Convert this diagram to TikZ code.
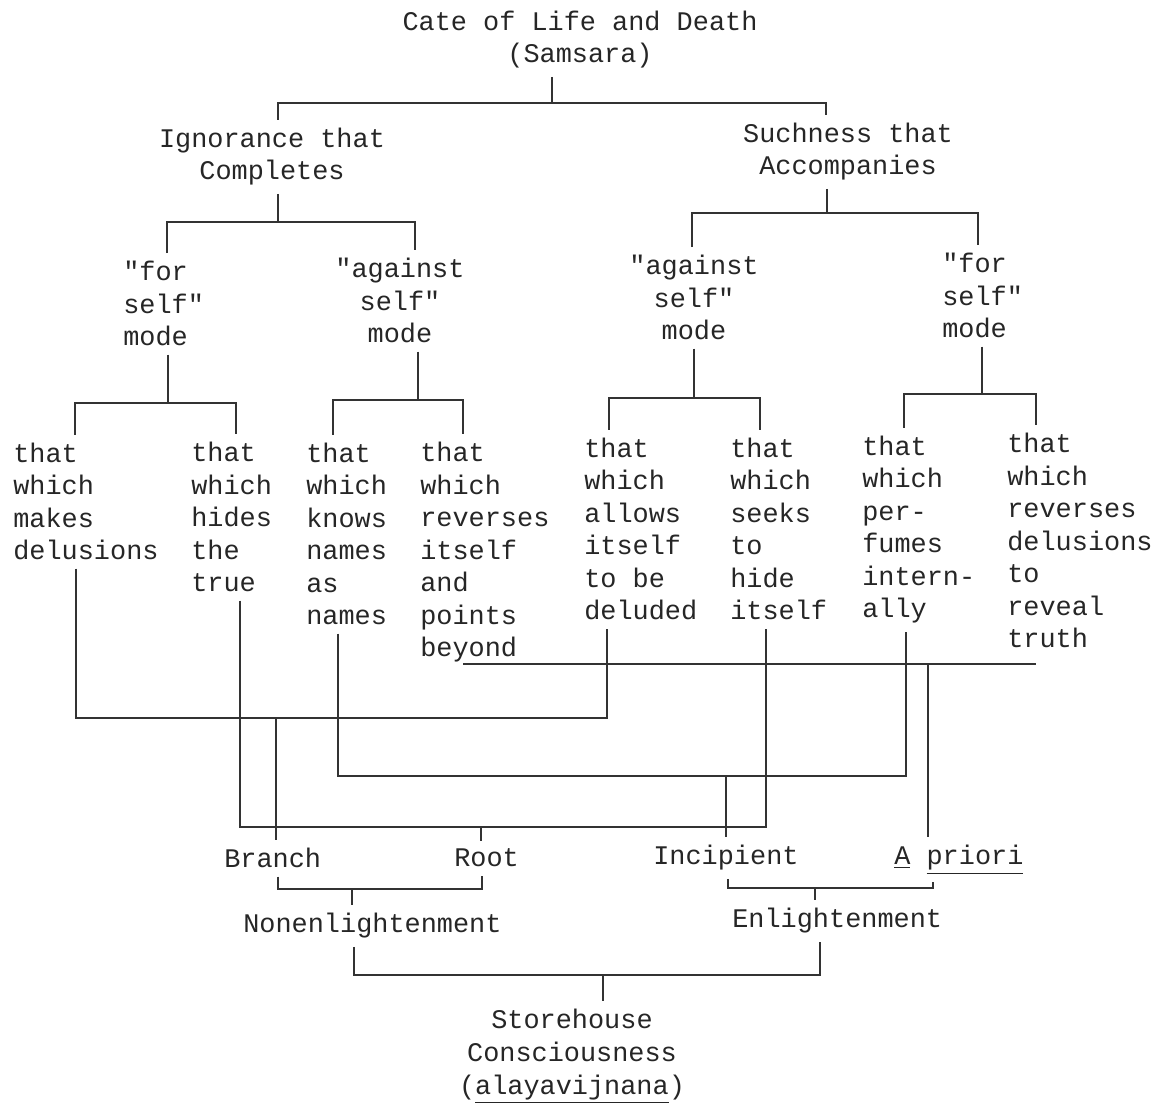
\documentclass[tikz,border=0pt]{standalone}
\usepackage{fontspec}
\newfontfamily\typewr{Liberation Mono}

\tikzset{
  txt/.style={font=\typewr\fontsize{15.3}{18.5}\selectfont, text=black!85, inner xsep=0pt, inner ysep=0.16cm},
  lft/.style={txt, align=left, anchor=base west},
  mid/.style={txt, align=center, anchor=base},
  link/.style={line width=1.1pt, draw=black!80},
}

\begin{document}
\begin{tikzpicture}[x=0.02cm,y=-0.02cm]

\useasboundingbox (0,0) rectangle (1154,1104) ;

\node [mid] (gate) at (580,63) {Cate of Life and Death\\(Samsara)} ;

\node [mid] (ignor) at (272,180) {Ignorance that\\Completes} ;
\node [mid] (such) at (848,175) {Suchness that\\Accompanies} ;

\node [lft] (forl) at (123,346) {"for\\self"\\mode} ;
\node [mid] (againstl) at (400,343) {"against\\self"\\mode} ;
\node [mid] (againstr) at (694,340) {"against\\self"\\mode} ;
\node [lft] (forr) at (942,338) {"for\\self"\\mode} ;

\node [lft] (makes) at (13,560) {that\\which\\makes\\delusions} ;
\node [lft] (hides) at (191,592) {that\\which\\hides\\the\\true} ;
\node [lft] (knows) at (306,625) {that\\which\\knows\\names\\as\\names} ;
\node [lft] (reversl) at (420,657) {that\\which\\reverses\\itself\\and\\points\\beyond} ;
\node [lft] (allows) at (584,620) {that\\which\\allows\\itself\\to be\\deluded} ;
\node [lft] (seeks) at (730,620) {that\\which\\seeks\\to\\hide\\itself} ;
\node [lft] (perfumes) at (862,618) {that\\which\\per-\\fumes\\intern-\\ally} ;
\node [lft] (reveal) at (1007,648) {that\\which\\reverses\\delusions\\to\\reveal\\truth} ;

\node [lft] (branch) at (224,868) {Branch} ;
\node [lft] (root) at (454,867) {Root} ;
\node [lft] (incip) at (653,865) {Incipient} ;
\node [lft] (apriori) at (894,865) {\underline{A} \underline{priori}} ;

\node [lft] (nonenl) at (243,933) {Nonenlightenment} ;
\node [lft] (enl) at (732,928) {Enlightenment} ;

\node [mid] (store) at (572,1094) {Storehouse\\Consciousness\\(\underline{alayavijnana})} ;

\coordinate (gatej) at (552,103) ;
\coordinate (gatel) at (278,103) ;
\coordinate (gater) at (826,103) ;
\draw [link] (gate.south -| gatej) -- (gatej) ;
\draw [link] (ignor.north -| gatel) -- (gatel) -- (gater) -- (such.north -| gater) ;

\coordinate (ignj) at (278,222) ;
\coordinate (ignl) at (167,222) ;
\coordinate (ignr) at (415,222) ;
\draw [link] (ignor.south -| ignj) -- (ignj) ;
\draw [link] (forl.north -| ignl) -- (ignl) -- (ignr) -- (againstl.north -| ignr) ;

\coordinate (suchj) at (827,213) ;
\coordinate (suchl) at (692,213) ;
\coordinate (suchr) at (978,213) ;
\draw [link] (such.south -| suchj) -- (suchj) ;
\draw [link] (againstr.north -| suchl) -- (suchl) -- (suchr) -- (forr.north -| suchr) ;

\coordinate (forlj) at (168,403) ;
\coordinate (forll) at (75,403) ;
\coordinate (forlr) at (236,403) ;
\draw [link] (forl.south -| forlj) -- (forlj) ;
\draw [link] (makes.north -| forll) -- (forll) -- (forlr) -- (hides.north -| forlr) ;

\coordinate (aglj) at (418,400) ;
\coordinate (agll) at (333,400) ;
\coordinate (aglr) at (463,400) ;
\draw [link] (againstl.south -| aglj) -- (aglj) ;
\draw [link] (knows.north -| agll) -- (agll) -- (aglr) -- (reversl.north -| aglr) ;

\coordinate (agrj) at (694,398) ;
\coordinate (agrl) at (609,398) ;
\coordinate (agrr) at (760,398) ;
\draw [link] (againstr.south -| agrj) -- (agrj) ;
\draw [link] (allows.north -| agrl) -- (agrl) -- (agrr) -- (seeks.north -| agrr) ;

\coordinate (forrj) at (982,394) ;
\coordinate (forrl) at (904,394) ;
\coordinate (forrr) at (1036,394) ;
\draw [link] (forr.south -| forrj) -- (forrj) ;
\draw [link] (perfumes.north -| forrl) -- (forrl) -- (forrr) -- (reveal.north -| forrr) ;

\coordinate (beyondl) at (463,664) ;
\coordinate (beyondr) at (1036,664) ;
\coordinate (beyondj) at (928,664) ;
\draw [link] (beyondl) -- (beyondr) ;
\draw [link] (beyondj) -- (apriori.north -| beyondj) ;

\coordinate (makesl) at (76,718) ;
\coordinate (makesr) at (607,718) ;
\coordinate (makesj) at (276,718) ;
\draw [link] (makes.south -| makesl) -- (makesl) -- (makesr) -- (allows.south -| makesr) ;
\draw [link] (makesj) -- (branch.north -| makesj) ;

\coordinate (knowsl) at (338,776) ;
\coordinate (knowsr) at (906,776) ;
\coordinate (knowsj) at (726,776) ;
\draw [link] (knows.south -| knowsl) -- (knowsl) -- (knowsr) -- (perfumes.south -| knowsr) ;
\draw [link] (knowsj) -- (incip.north -| knowsj) ;

\coordinate (hidesl) at (240,827) ;
\coordinate (hidesr) at (766,827) ;
\coordinate (hidesj) at (481,827) ;
\draw [link] (hides.south -| hidesl) -- (hidesl) -- (hidesr) -- (seeks.south -| hidesr) ;
\draw [link] (hidesj) -- (root.north -| hidesj) ;

\coordinate (nonj) at (352,889) ;
\coordinate (nonl) at (278,889) ;
\coordinate (nonr) at (482,889) ;
\draw [link] (branch.south -| nonl) -- (nonl) -- (nonr) -- (root.south -| nonr) ;
\draw [link] (nonj) -- (nonenl.north -| nonj) ;

\coordinate (enlj) at (815,888) ;
\coordinate (enll) at (728,888) ;
\coordinate (enlr) at (933,888) ;
\draw [link] (incip.south -| enll) -- (enll) -- (enlr) -- (apriori.south -| enlr) ;
\draw [link] (enlj) -- (enl.north -| enlj) ;

\coordinate (storej) at (603,975) ;
\coordinate (storel) at (354,975) ;
\coordinate (storer) at (820,975) ;
\draw [link] (nonenl.south -| storel) -- (storel) -- (storer) -- (enl.south -| storer) ;
\draw [link] (storej) -- (store.north -| storej) ;

\end{tikzpicture}
\end{document}
